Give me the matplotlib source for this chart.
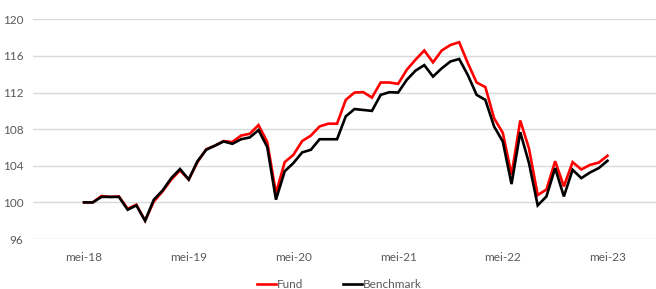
import matplotlib
matplotlib.use("Agg")
import matplotlib.pyplot as plt
import numpy as np

# --- data: monthly index values, May 2018 .. May 2023 ---
fund = [100.0, 100.0, 100.7, 100.6, 100.65, 99.3, 99.75, 98.0, 100.1, 101.2,
        102.5, 103.5, 102.5, 104.4, 105.8, 106.2, 106.7, 106.6, 107.3, 107.5,
        108.45, 106.6, 101.0, 104.4, 105.2, 106.7, 107.3, 108.3, 108.6, 108.6,
        111.2, 112.0, 112.05, 111.45, 113.1, 113.1, 112.95, 114.5, 115.6, 116.6,
        115.3, 116.6, 117.2, 117.5, 115.2, 113.1, 112.6, 109.2, 107.6, 103.0,
        108.95, 105.9, 100.8, 101.4, 104.5, 101.75, 104.4, 103.6, 104.1, 104.35,
        105.1]
benchmark = [100.0, 100.0, 100.6, 100.6, 100.6, 99.2, 99.67, 98.0, 100.3, 101.3,
             102.66, 103.65, 102.5, 104.5, 105.75, 106.2, 106.66, 106.4, 106.9, 107.1,
             107.9, 106.05, 100.3, 103.4, 104.3, 105.46, 105.75, 106.9, 106.9, 106.9,
             109.4, 110.2, 110.1, 110.0, 111.75, 112.04, 112.0, 113.4, 114.4, 115.0,
             113.75, 114.65, 115.4, 115.67, 113.9, 111.75, 111.2, 108.3, 106.65, 102.0,
             107.67, 104.3, 99.67, 100.65, 103.75, 100.65, 103.56, 102.65, 103.27, 103.75,
             104.55]
tick_pos = [0, 12, 24, 36, 48, 60]
tick_labels = ["mei-18", "mei-19", "mei-20", "mei-21", "mei-22", "mei-23"]
y_ticks = [96, 100, 104, 108, 112, 116, 120]

plt.rcParams['font.family'] = ['Lato', 'DejaVu Sans']
txt = '#595959'
grid = '#d9d9d9'

fig = plt.figure(figsize=(6.56, 2.89), dpi=100)
ax = fig.add_axes([0.0503, 0.173, 0.9497, 0.760])

x = np.arange(len(fund))
ax.plot(x, fund, color='#ff0000', lw=1.9, label='Fund', solid_joinstyle='miter')
ax.plot(x, benchmark, color='black', lw=1.9, label='Benchmark', solid_joinstyle='miter')

ax.set_xlim(-5.85, 65.56)
ax.set_ylim(96, 120)
ax.set_yticks(y_ticks)
ax.set_xticks(tick_pos)
ax.set_xticklabels(tick_labels)
ax.tick_params(length=0, labelsize=8.5, colors=txt)
ax.tick_params(axis='y', pad=7)
ax.tick_params(axis='x', pad=9)
ax.grid(axis='y', color=grid, lw=1.0)
ax.set_axisbelow(True)
for s in ax.spines.values():
    s.set_visible(False)

fig.legend(loc='lower center', bbox_to_anchor=(0.517, -0.04), ncol=2, frameon=False,
           fontsize=8.5, labelcolor=txt, handlelength=1.6, handletextpad=0.05,
           columnspacing=3.4)

fig.savefig('out.png', dpi=100)
